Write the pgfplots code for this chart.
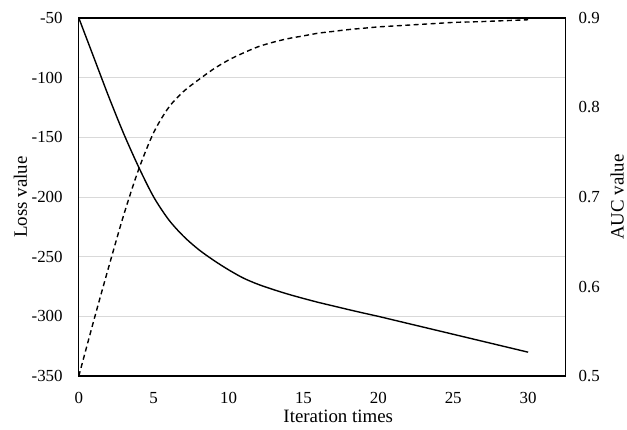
\documentclass[border=0pt]{standalone}
\usepackage{pgfplots}
\pgfplotsset{compat=1.18}
\usepackage{fontspec}
\setmainfont{Liberation Serif}

\definecolor{gridgray}{HTML}{D9D9D9}

\pgfplotsset{
  base/.style={
    width=488bp, height=359bp, scale only axis,
    xmin=0, xmax=32.5,
    major tick length=0pt,
    /pgf/number format/assume math mode=true,
    tick label style={font=\fontsize{17}{20}\selectfont, inner sep=0pt},
    label style={font=\fontsize{19}{22}\selectfont},
  },
}

\begin{document}
\begin{tikzpicture}
  % left axis: loss
  \begin{axis}[
      base, name=ax,
      ymin=-350, ymax=-50,
      xtick={0,5,...,30},
      ytick={-350,-300,...,-50},
      ymajorgrids,
      grid style={line width=1bp, draw=gridgray},
      axis line style={line width=1.2bp},
      yticklabel pos=left,
      xticklabel style={anchor=north, yshift=-16bp},
      yticklabel style={anchor=east, xshift=-16bp},
      xlabel={Iteration times},
      xlabel style={at={(axis description cs:0.533,0)}, anchor=base, yshift=-47bp},
      ylabel={Loss value},
      ylabel style={at={(axis description cs:-0.1066,0.5)}, anchor=base, rotate=0},
    ]
    \addplot[black, line width=1.4bp, smooth, tension=0.5] coordinates {
      (0,-50) (1,-83) (2,-116) (3,-147) (4,-175) (5,-200)
      (6,-219) (7,-233) (8,-244) (9,-253) (10,-261) (11,-268)
      (12,-273.3) (13,-277.6) (14,-281.5) (15,-285) (16,-288.3)
      (17,-291.3) (18,-294.3) (19,-297.2) (20,-300) (21,-303)
      (22,-306) (23,-309) (24,-312) (25,-315) (26,-318)
      (27,-321) (28,-324) (29,-327) (30,-330)
    };
  \end{axis}
  % right axis: AUC
  \begin{axis}[
      base,
      ymin=0.5, ymax=0.9,
      ytick={0.5,0.6,...,0.9},
      axis x line=none,
      axis y line*=right,
      axis line style={line width=1.2bp},
      yticklabel style={anchor=west, xshift=13bp,
        /pgf/number format/fixed, /pgf/number format/precision=1,
        /pgf/number format/fixed zerofill},
      ylabel={AUC value},
      ylabel style={at={(axis description cs:1.119,0.5)}, anchor=base, rotate=0},
    ]
    \addplot[black, line width=1.4bp, smooth, tension=0.5,
      dash pattern=on 5bp off 3.5bp] coordinates {
      (0,0.5) (1,0.562) (2,0.622) (3,0.680) (4,0.731) (5,0.772)
      (6,0.800) (7,0.818) (8,0.831) (9,0.843) (10,0.853)
      (11,0.861) (12,0.868) (13,0.873) (14,0.877) (15,0.880)
      (16,0.883) (17,0.885) (18,0.887) (19,0.8885) (20,0.890)
      (21,0.891) (22,0.892) (23,0.893) (24,0.894) (25,0.895)
      (26,0.8955) (27,0.896) (28,0.8967) (29,0.8973) (30,0.898)
    };
  \end{axis}
  \path[use as bounding box] ([xshift=-79bp,yshift=-54bp]ax.south west)
    rectangle ([xshift=60bp,yshift=18bp]ax.north east);
\end{tikzpicture}
\end{document}
